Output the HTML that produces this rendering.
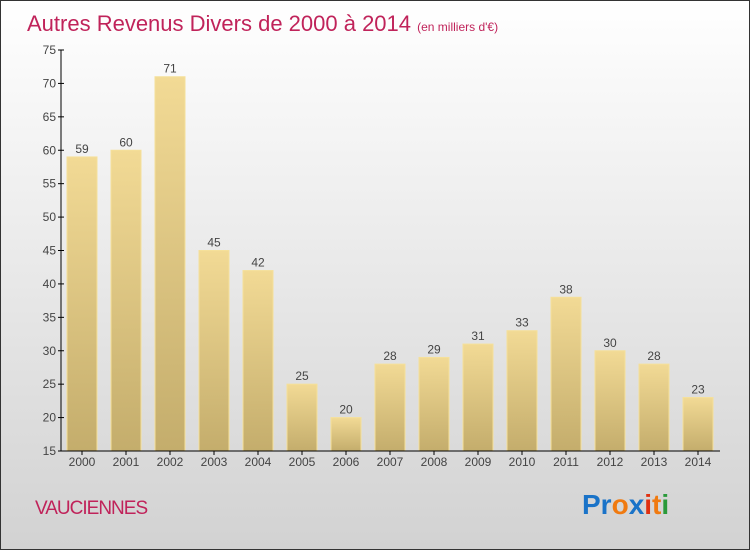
<!DOCTYPE html>
<html><head><meta charset="utf-8"><style>
body{margin:0;width:750px;height:550px;overflow:hidden;font-family:"Liberation Sans",sans-serif}
</style></head><body>
<svg width="750" height="550" xmlns="http://www.w3.org/2000/svg">
<defs>
<linearGradient id="bg" x1="0" y1="0" x2="0" y2="1"><stop offset="0" stop-color="#ffffff"/><stop offset="1" stop-color="#d2d2d2"/></linearGradient>
<linearGradient id="bar" x1="0" y1="0" x2="0" y2="1"><stop offset="0" stop-color="#f2da95"/><stop offset="1" stop-color="#c4ad6c"/></linearGradient>
</defs>
<rect x="0.5" y="0.5" width="749" height="549" fill="url(#bg)" stroke="#333"/>
<text x="27" y="31" font-size="22" fill="#c0235a">Autres Revenus Divers de 2000 à 2014 <tspan font-size="12">(en milliers d'€)</tspan></text>
<g id="yaxis"></g>
<g id="bars"></g>
<g id="xaxis"></g>
<text x="35" y="514" font-size="19" fill="#c0235a" letter-spacing="-1">VAUCIENNES</text>
<text x="582" y="514" font-size="28" font-weight="bold"><tspan fill="#1a73c8">Pr</tspan><tspan fill="#f07a10">o</tspan><tspan fill="#1a73c8">x</tspan><tspan fill="#e03010">i</tspan><tspan fill="#f07a10">t</tspan><tspan fill="#2a9a3a">i</tspan></text>
</svg>
<script>
const years=["2000","2001","2002","2003","2004","2005","2006","2007","2008","2009","2010","2011","2012","2013","2014"];
const values=[59,60,71,45,42,25,20,28,29,31,33,38,30,28,23];
const yTicks=[15,20,25,30,35,40,45,50,55,60,65,70,75];
const NS="http://www.w3.org/2000/svg";
const y0=451,y1=50,vmin=15,vmax=75;
const ys=v=>y0-(v-vmin)*(y0-y1)/(vmax-vmin);
const xs=i=>82+i*44;
function mk(t,a,p){const e=document.createElementNS(NS,t);for(const k in a)e.setAttribute(k,a[k]);p.appendChild(e);return e;}
const ya=document.getElementById('yaxis'),ba=document.getElementById('bars'),xa=document.getElementById('xaxis');
mk('line',{x1:61,y1:y1,x2:61,y2:y0,stroke:'#000'},ya);
yTicks.forEach(v=>{
 mk('line',{x1:58,x2:64,y1:ys(v),y2:ys(v),stroke:'#000'},ya);
 const t=mk('text',{x:56,y:ys(v)+4,'text-anchor':'end','font-size':12,fill:'#444'},ya);t.textContent=v;
 
 
});
mk('line',{x1:61,y1:y0,x2:720,y2:y0,stroke:'#000'},xa);
values.forEach((v,i)=>{
 const r=mk('rect',{x:xs(i)-15,y:ys(v),width:30,height:y0-ys(v),fill:'url(#bar)',stroke:'#f5e09a','stroke-width':1},ba);
 
 
 const l=mk('text',{x:xs(i),y:ys(v)-4,'text-anchor':'middle','font-size':12,fill:'#444'},ba);l.textContent=v;
 
 
 mk('line',{x1:xs(i),x2:xs(i),y1:y0,y2:y0+4,stroke:'#000'},xa);
 const t=mk('text',{x:xs(i),y:y0+15,'text-anchor':'middle','font-size':12,fill:'#444'},xa);t.textContent=years[i];
 
 
});
</script>
</body></html>
